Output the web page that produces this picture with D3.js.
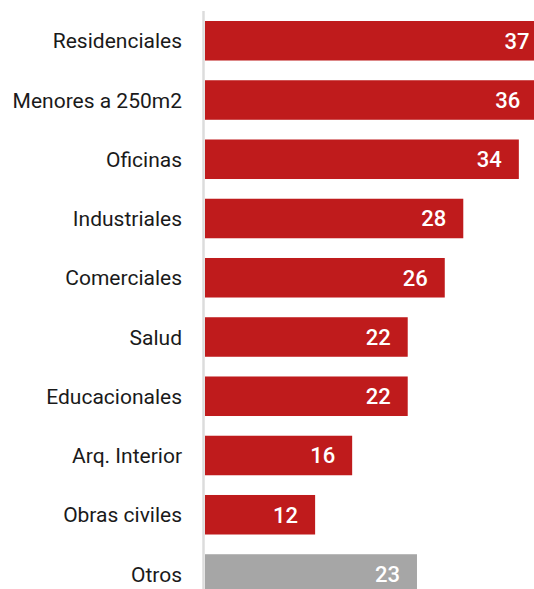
<!DOCTYPE html>
<html>
<head>
<meta charset="utf-8">
<script src="https://cdn.jsdelivr.net/npm/d3@7"></script>
<style>
  body { margin: 0; background: #fff; }
  svg { display: block; }
</style>
</head>
<body>
<svg width="534" height="589"></svg>
<script>
// data
var categories = ["Residenciales", "Menores a 250m2", "Oficinas", "Industriales", "Comerciales",
                  "Salud", "Educacionales", "Arq. Interior", "Obras civiles", "Otros"];
var values = [37, 36, 34, 28, 26, 22, 22, 16, 12, 23];
var highlight = [false, false, false, false, false, false, false, false, false, true];

var svg = d3.select("svg");
var x0 = 204;

var x = d3.scaleLinear()
    .domain([0, 40])
    .range([x0, x0 + 40 * 9.26]);

var y = d3.scaleBand()
    .domain(categories)
    .range([21, 593.75])
    .paddingInner(0.333)
    .paddingOuter(0);

var rows = categories.map(function (c, i) {
    return { cat: c, val: values[i], other: highlight[i] };
});

// bars
svg.selectAll("rect.bar").data(rows)
    .enter()
    .append("rect")
    .attr("class", "bar")
    .attr("x", x(0) + 1)
    .attr("y", function (d) { return y(d.cat); })
    .attr("width", function (d) { return x(d.val) - x(0) - 1; })
    .attr("height", y.bandwidth())
    .attr("fill", function (d) { return d.other ? "#a6a6a6" : "#bf1b1c"; });

// axis line
svg.append("line")
    .attr("x1", x(0) - 0.5).attr("x2", x(0) - 0.5)
    .attr("y1", 11).attr("y2", 589)
    .attr("stroke", "#dcdcdc")
    .attr("stroke-width", 2.5);

// category labels
svg.selectAll("text.cat").data(rows)
    .enter()
    .append("text")
    .attr("class", "cat")
    .attr("x", 182)
    .attr("y", function (d) { return y(d.cat) + y.bandwidth() / 2; })
    .attr("dy", "0.36em")
    .attr("text-anchor", "end")
    .attr("fill", "#1a1a1a")
    .style("font-family", "Roboto, sans-serif")
    .style("font-size", "21px")
    .text(function (d) { return d.cat; });

// value labels
svg.selectAll("text.val").data(rows)
    .enter()
    .append("text")
    .attr("class", "val")
    .attr("x", function (d) { return x(d.val) - 17; })
    .attr("y", function (d) { return y(d.cat) + y.bandwidth() / 2; })
    .attr("dy", "0.36em")
    .attr("text-anchor", "end")
    .attr("fill", "#fff")
    .style("font-family", "Roboto, sans-serif")
    .style("font-weight", "500")
    .style("font-size", "22px")
    .text(function (d) { return d.val; });
</script>
</body>
</html>
